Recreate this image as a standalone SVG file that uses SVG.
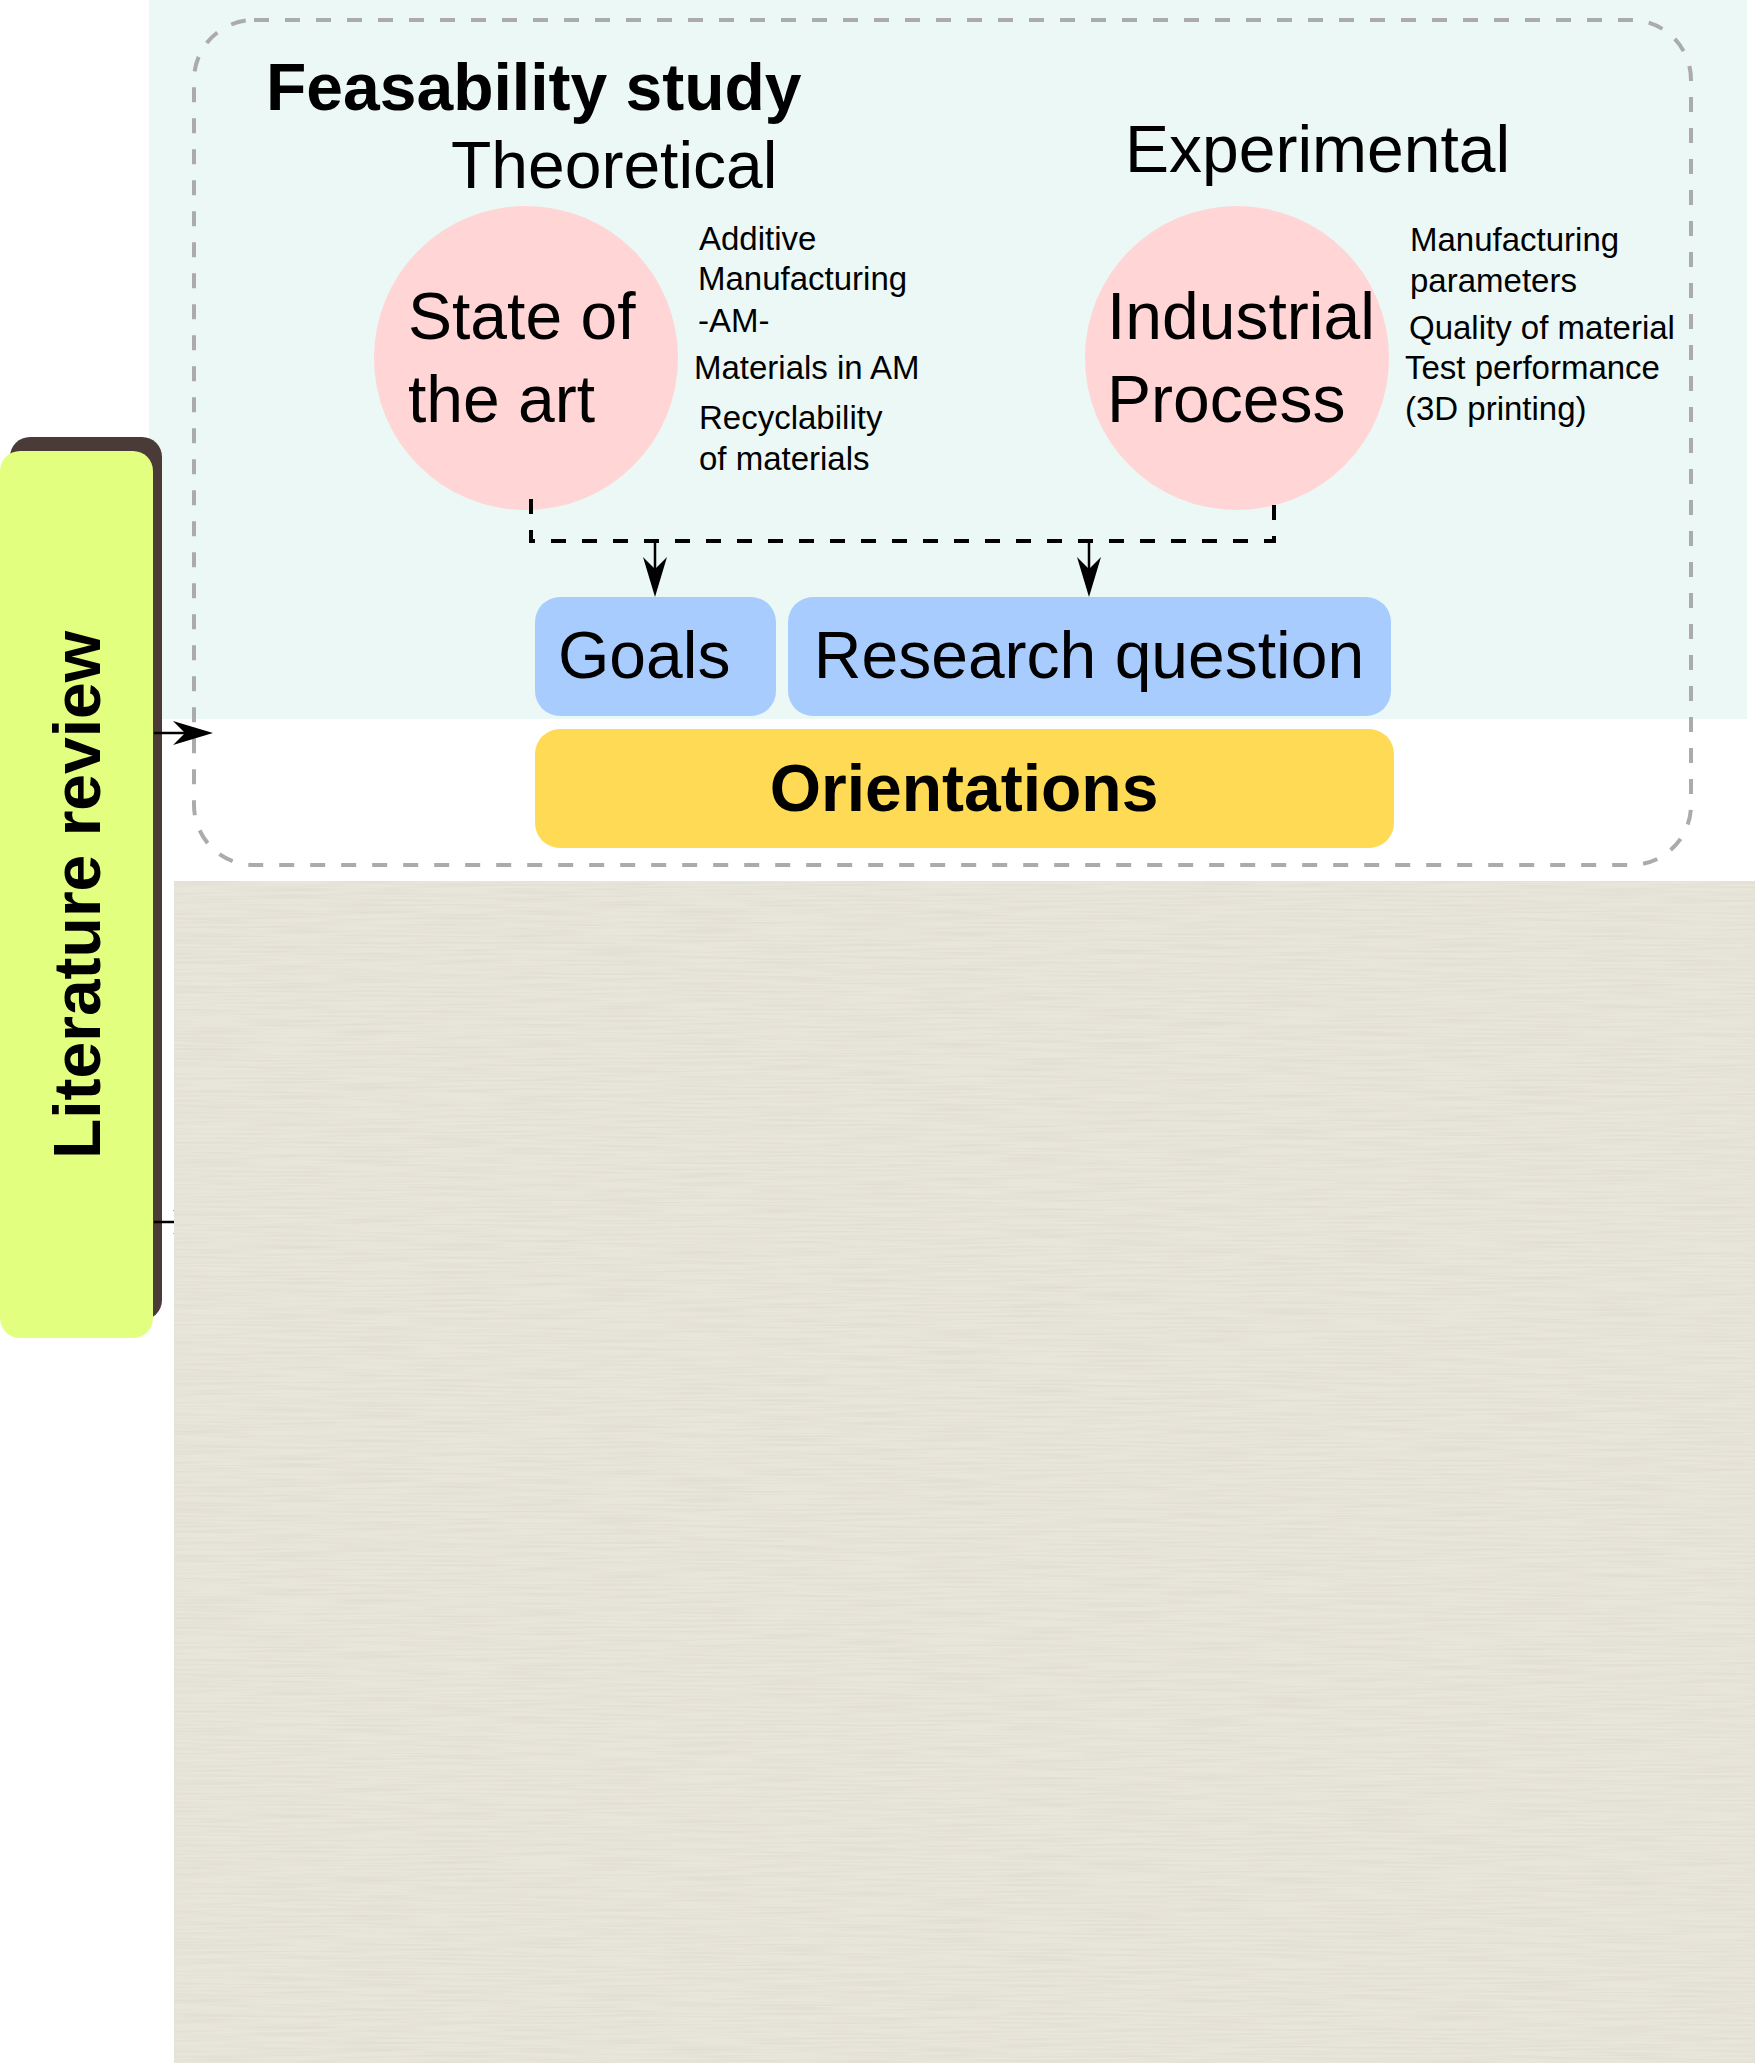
<svg xmlns="http://www.w3.org/2000/svg" width="1758" height="2063" viewBox="0 0 1758 2063">
  <defs>
    <style>
      text { font-family: "Liberation Sans", Arial, sans-serif; fill: #000; }
      .big { font-size: 66px; }
      .bold { font-weight: bold; }
      .note { font-size: 33px; }
      .circle { fill: #FFD5D5; }
      .blue { fill: #A9CCFF; }
      .dash-conn { fill: none; stroke: #000; stroke-width: 4; stroke-dasharray: 15 16; }
      .arrow { fill: none; stroke: #000; stroke-width: 2.5; marker-end: url(#head); }
    </style>
    <marker id="head" markerUnits="userSpaceOnUse" markerWidth="40" markerHeight="24" refX="33" refY="12" orient="auto" overflow="visible">
      <path d="M0,0 L40,12 L0,24 L12,12 Z" fill="#000"/>
    </marker>
    <filter id="paper" x="0" y="0" width="100%" height="100%">
      <feTurbulence type="fractalNoise" baseFrequency="0.012 0.45" numOctaves="2" seed="5" result="n"/>
      <feColorMatrix in="n" type="matrix" values="0 0 0 0 0.55  0 0 0 0 0.53  0 0 0 0 0.47  0.45 0 0 0 -0.17"/>
      <feComposite in2="SourceGraphic" operator="in"/>
    </filter>
  </defs>

  <rect width="1758" height="2063" fill="#FFFFFF"/>

  <!-- feasibility background -->
  <g id="feasibility-bg">
    <rect x="149" y="0" width="1598" height="719" fill="#EBF8F5"/>
  </g>

  <!-- feasibility dashed frame -->
  <g id="feasibility-study">
    <rect x="194" y="20" width="1497" height="845" rx="60" ry="60" fill="none" stroke="#ABABAB" stroke-width="4" stroke-dasharray="15 16"/>
    <text class="big bold" x="266" y="110">Feasability study</text>
  </g>

  <g id="theoretical">
    <text class="big" x="451" y="188">Theoretical</text>
  </g>

  <g id="experimental">
    <text class="big" x="1125" y="172">Experimental</text>
  </g>

  <g id="state-of-the-art">
    <circle class="circle" cx="526" cy="358" r="152"/>
    <text class="big" x="408" y="339">State of</text>
    <text class="big" x="408" y="422">the art</text>
  </g>

  <g id="theoretical-notes">
    <text class="note" x="699" y="250">Additive</text>
    <text class="note" x="698" y="290">Manufacturing</text>
    <text class="note" x="698" y="332">-AM-</text>
    <text class="note" x="694" y="379">Materials in AM</text>
    <text class="note" x="699" y="429">Recyclability</text>
    <text class="note" x="699" y="470">of materials</text>
  </g>

  <g id="industrial-process">
    <circle class="circle" cx="1237" cy="358" r="152"/>
    <text class="big" x="1107" y="339">Industrial</text>
    <text class="big" x="1107" y="422">Process</text>
  </g>

  <g id="experimental-notes">
    <text class="note" x="1410" y="251">Manufacturing</text>
    <text class="note" x="1410" y="292">parameters</text>
    <text class="note" x="1409" y="339">Quality of material</text>
    <text class="note" x="1405" y="379">Test performance</text>
    <text class="note" x="1405" y="420">(3D printing)</text>
  </g>

  <g id="goals">
    <rect class="blue" x="535" y="597" width="241" height="119" rx="25" ry="25"/>
    <text class="big" x="558" y="678">Goals</text>
  </g>

  <g id="research-question">
    <rect class="blue" x="788" y="597" width="603" height="119" rx="25" ry="25"/>
    <text class="big" x="1089" y="678" text-anchor="middle">Research question</text>
  </g>

  <g id="orientations">
    <rect x="535" y="729" width="859" height="119" rx="25" ry="25" fill="#FFDA55"/>
    <text class="big bold" x="964" y="811" text-anchor="middle">Orientations</text>
  </g>

  <g id="literature-review">
    <rect x="10" y="437" width="152" height="883" rx="20" ry="20" fill="#4A3A38"/>
    <rect x="0" y="451" width="153" height="887" rx="20" ry="20" fill="#E3FF80"/>
    <text class="big bold" transform="translate(100,895) rotate(-90)" x="0" y="0" text-anchor="middle">Literature review</text>
  </g>

  <g id="connectors">
    <path class="dash-conn" d="M531,499 V541 H1274 V498"/>
    <line class="arrow" x1="655" y1="541" x2="655" y2="590"/>
    <line class="arrow" x1="1089" y1="541" x2="1089" y2="590"/>
    <line class="arrow" x1="154" y1="733" x2="206" y2="733"/>
    <line class="arrow" x1="154" y1="1222" x2="206" y2="1222"/>
  </g>

  <g id="paper-area">
    <rect x="174" y="881" width="1581" height="1182" fill="#E8E5DA"/>
    <rect x="174" y="881" width="1581" height="1182" fill="#E8E5DA" filter="url(#paper)"/>
  </g>
</svg>
